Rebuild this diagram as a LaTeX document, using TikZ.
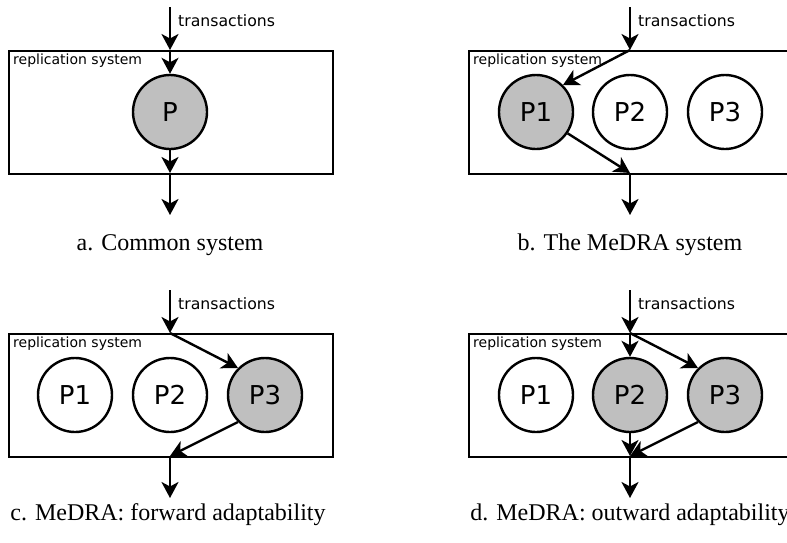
\documentclass[tikz,border=0pt]{standalone}
\usepackage{fontspec}
\setmainfont{Liberation Serif}
\setsansfont{DejaVu Sans}
\usetikzlibrary{arrows.meta}
\definecolor{actgray}{RGB}{191,191,191}
\begin{document}
\begin{tikzpicture}[x=1pt,y=-1pt,
  box/.style={draw,line width=2.4pt,anchor=north west,minimum width=324pt,minimum height=123pt,inner sep=0pt},
  proc/.style={circle,draw,line width=2.4pt,fill=white,minimum size=74pt,inner sep=0pt,font=\sffamily\fontsize{26}{30}\selectfont},
  act/.style={proc,fill=actgray},
  arr/.style={line width=2.4pt,-{Stealth[length=16pt,width=17pt,inset=4.5pt]}},
  lbl/.style={anchor=west,inner sep=0pt,font=\sffamily\fontsize{14}{17}\selectfont},
  tlbl/.style={lbl,font=\sffamily\fontsize{15.7}{18}\selectfont},
  captxt/.style={inner sep=0pt,font=\fontsize{24}{28}\selectfont}]
\clip (0,0) rectangle (787,542);
\fill[white] (0,0) rectangle (787,542);

% ---------- panel a ----------
\node[box] (boxa) at (8,50) {};
\node[lbl] (rsa) at (13,61) {replication system};
\node[tlbl] (ta) at (178,21) {transactions};
\coordinate (a-src) at (170,7);
\coordinate (a-in) at (170,50);
\coordinate (a-out) at (170,173);
\coordinate (a-end) at (170,215);
\node[act] (aP) at (170,112) {P};
\draw[arr] (a-src) -- (a-in);
\draw[arr] (a-in) -- (aP);
\draw[arr] (aP) -- (a-out);
\draw[arr] (a-out) -- (a-end);
\node[captxt] (capa) at (170,245) {a. Common system};

% ---------- panel b ----------
\node[box] (boxb) at (468,50) {};
\node[lbl] (rsb) at (473,61) {replication system};
\node[tlbl] (tb) at (638,21) {transactions};
\coordinate (b-src) at (630,7);
\coordinate (b-in) at (630,50);
\coordinate (b-out) at (630,173);
\coordinate (b-end) at (630,215);
\node[act] (bP1) at (536,112) {P1};
\node[proc] (bP2) at (630,112) {P2};
\node[proc] (bP3) at (725,112) {P3};
\draw[arr] (b-src) -- (b-in);
\draw[arr] (b-in) -- (bP1.north east);
\draw[arr] (bP1.-34) -- (b-out);
\draw[arr] (b-out) -- (b-end);
\node[captxt] (capb) at (630,245) {b. The MeDRA system};

% ---------- panel c ----------
\node[box] (boxc) at (8,333) {};
\node[lbl] (rsc) at (13,344) {replication system};
\node[tlbl] (tc) at (178,304) {transactions};
\coordinate (c-src) at (170,290);
\coordinate (c-in) at (170,333);
\coordinate (c-out) at (170,456);
\coordinate (c-end) at (170,498);
\node[proc] (cP1) at (75,395) {P1};
\node[proc] (cP2) at (170,395) {P2};
\node[act] (cP3) at (265,395) {P3};
\draw[arr] (c-src) -- (c-in);
\draw[arr] (c-in) -- (cP3.north west);
\draw[arr] (cP3.south west) -- (c-out);
\draw[arr] (c-out) -- (c-end);
\node[captxt] (capc) at (168,515) {c. MeDRA: forward adaptability};

% ---------- panel d ----------
\node[box] (boxd) at (468,333) {};
\node[lbl] (rsd) at (473,344) {replication system};
\node[tlbl] (td) at (638,304) {transactions};
\coordinate (d-src) at (630,290);
\coordinate (d-in) at (630,333);
\coordinate (d-out) at (630,456);
\coordinate (d-end) at (630,498);
\node[proc] (dP1) at (536,395) {P1};
\node[act] (dP2) at (630,395) {P2};
\node[act] (dP3) at (725,395) {P3};
\draw[arr] (d-src) -- (d-in);
\draw[arr] (d-in) -- (dP2);
\draw[arr] (d-in) -- (dP3.north west);
\draw[arr] (dP2) -- (d-out);
\draw[arr] (dP3.south west) -- (d-out);
\draw[arr] (d-out) -- (d-end);
\node[captxt] (capd) at (630,515) {d. MeDRA: outward adaptability};
\end{tikzpicture}
\end{document}
